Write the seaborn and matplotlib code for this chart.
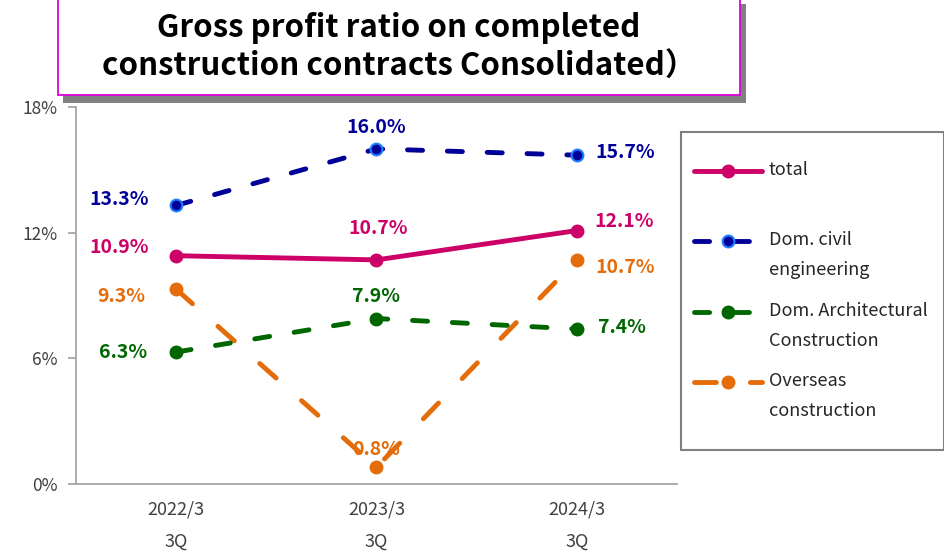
import numpy as np
import pandas as pd
import matplotlib
matplotlib.use("Agg")
import matplotlib.pyplot as plt
import seaborn as sns
from matplotlib.patches import Rectangle
from matplotlib.legend_handler import HandlerLine2D
from matplotlib.transforms import Affine2D

# ---------------- data ----------------
periods = ["2022/3\n3Q", "2023/3\n3Q", "2024/3\n3Q"]
series_names = ["total", "Dom. civil\nengineering", "Dom. Architectural\nConstruction",
                "Overseas\nconstruction"]
total = [10.9, 10.7, 12.1]
civil = [13.3, 16.0, 15.7]
architectural = [6.3, 7.9, 7.4]
overseas = [9.3, 0.8, 10.7]
y_ticks = [0, 6, 12, 18]
y_tick_labels = ["0%", "6%", "12%", "18%"]
title_text = "Gross profit ratio on completed\nconstruction contracts Consolidated）"

# ---------------- styles ----------------
W, H = 945, 552
sns.set_theme(style="white")
plt.rcParams["font.family"] = ["Noto Sans CJK JP", "DejaVu Sans"]

colors = ["#CC0066", "#000099", "#006600", "#E46C0A"]
dash_styles = ["-", (0, (3.1, 5.1)), (0, (3.1, 5.1)), (0, (4.5, 7.0))]
edge_colors = ["#CC0066", "#1E7FFF", "#006600", "#E46C0A"]
# label offsets in pixels (dx, dy) and horizontal alignment for each point
label_pos = [
    [(-27, 8, "right"), (2, 31, "center"), (18, 9, "left")],
    [(-27, 6, "right"), (0, 21, "center"), (19, 3, "left")],
    [(-29, 0, "right"), (0, 22, "center"), (21, 2, "left")],
    [(-31, -7, "right"), (0, 18, "center"), (19, -8, "left")],
]
px = 0.72  # points per pixel at dpi 100

fig = plt.figure(figsize=(W / 100, H / 100), dpi=100)
ax = fig.add_axes([76 / W, 1 - 484 / H, (677 - 76) / W, (484 - 107) / H])

all_values = [total, civil, architectural, overseas]
handles = []
for i, (name, vals) in enumerate(zip(series_names, all_values)):
    df = pd.DataFrame({"x": np.arange(len(periods)), "y": vals})
    sns.lineplot(data=df, x="x", y="y", ax=ax, color=colors[i],
                 linestyle=dash_styles[i], linewidth=3.5,
                 marker="o", markersize=8.5, markeredgecolor=edge_colors[i],
                 markeredgewidth=1.5, dash_capstyle="round",
                 solid_capstyle="round", errorbar=None, legend=False,
                 zorder=3 + (3 - i))
    handles.append(ax.get_lines()[-1])
    for j, v in enumerate(vals):
        dx, dy, ha = label_pos[i][j]
        ax.annotate(f"{v:.1f}%", (j, v), xytext=(dx * px, dy * px),
                    textcoords="offset points", ha=ha, va="center",
                    fontsize=14, fontweight="bold", color=colors[i], zorder=10)

ax.set_xlim(-0.5, 2.5)
ax.set_ylim(0, 18)
ax.set_xticks(range(len(periods)))
ax.set_xticklabels(periods, fontsize=13, color="#404040", linespacing=2.0)
ax.set_yticks(y_ticks)
ax.set_yticklabels(y_tick_labels, fontsize=12.5, color="#404040")
ax.set_xlabel("")
ax.set_ylabel("")
for s in ["top", "right"]:
    ax.spines[s].set_visible(False)
for s in ["left", "bottom"]:
    ax.spines[s].set_color("#A6A6A6")
    ax.spines[s].set_linewidth(1.3)
ax.tick_params(axis="y", which="major", left=True, length=6, width=1.3,
               color="#A6A6A6", pad=7)
ax.tick_params(axis="x", which="major", bottom=False, pad=6)

# ---------------- title box ----------------
shadow = Rectangle((63 / W, 1 - 102.5 / H), (746.5 - 63) / W, (102.5 - 4) / H,
                   transform=fig.transFigure, facecolor="#808080",
                   edgecolor="none", zorder=0)
box = Rectangle((58.5 / W, 1 - 95.5 / H), (740.5 - 58.5) / W, (95.5 + 2) / H,
                transform=fig.transFigure, facecolor="white",
                edgecolor="#DD00DD", linewidth=1.3, zorder=1)
fig.patches.extend([shadow, box])
fig.text(399 / W, 1 - 47 / H, title_text, ha="center", va="center",
         fontsize=22.5, fontweight="bold", color="black", linespacing=1.28,
         zorder=2)

# ---------------- legend ----------------
frame = Rectangle((681.5 / W, 1 - 449.5 / H), (944 - 681.5) / W, (449.5 - 131.5) / H,
                  transform=fig.transFigure, facecolor="white",
                  edgecolor="#808080", linewidth=1.5, zorder=0)
fig.patches.append(frame)


class ShiftedLine(HandlerLine2D):
    def __init__(self, dy, **kw):
        super().__init__(**kw)
        self.dy = dy

    def create_artists(self, legend, orig_handle, xdescent, ydescent, width,
                       height, fontsize, trans):
        trans = Affine2D().translate(0, self.dy) + trans
        return super().create_artists(legend, orig_handle, xdescent, ydescent,
                                      width, height, fontsize, trans)


leg_labels = ["total\n "] + series_names[1:]
leg = fig.legend(handles, leg_labels, loc="upper left",
                 bbox_to_anchor=(694 / W, 1 - 161 / H), frameon=False,
                 fontsize=13, handlelength=3.75, handletextpad=0.4,
                 labelspacing=1.25, borderpad=0, borderaxespad=0,
                 handler_map={h: ShiftedLine(10.6) for h in handles})
for t in leg.get_texts():
    t.set_linespacing(1.85)
    t.set_color("#262626")

fig.savefig("out.png", dpi=100)
